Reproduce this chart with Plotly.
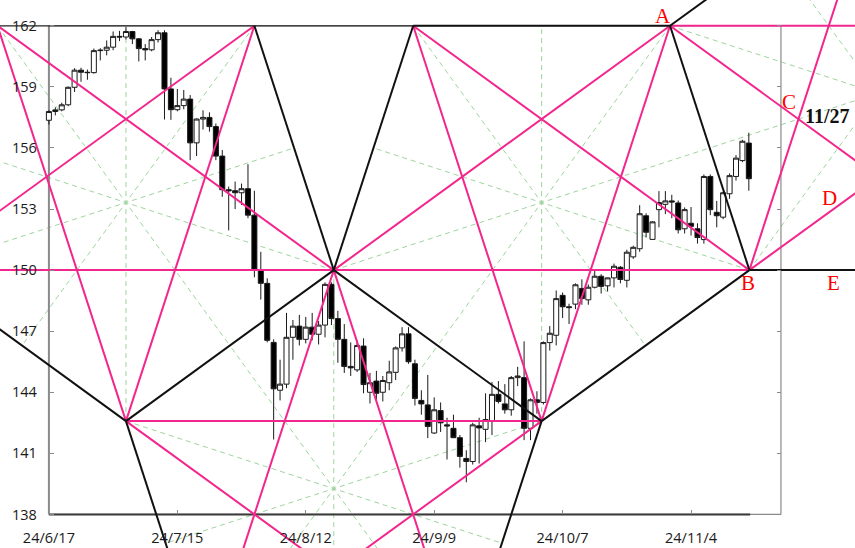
import math
import plotly.graph_objects as go

# ---------------- data ----------------
tick_idx = [0, 20, 40, 60, 80, 100]
tick_labels = ["24/6/17", "24/7/15", "24/8/12", "24/9/9", "24/10/7", "24/11/4"]
price_ticks = [138, 141, 144, 147, 150, 153, 156, 159, 162]

opens = [157.36, 157.79, 157.87, 158.12, 158.98, 159.82, 159.72, 159.70, 160.78, 160.80,
         160.95, 161.48, 161.45, 161.72, 161.36, 160.88, 160.82, 161.32, 161.66, 158.90,
         157.88, 158.08, 158.40, 156.25, 157.42, 157.50, 157.05, 155.60, 153.95, 153.90,
         153.80, 154.00, 152.70, 150.00, 149.35, 146.45, 144.10, 144.40, 146.70, 147.25,
         146.60, 147.20, 146.85, 147.30, 149.30, 147.62, 146.60, 145.27, 145.10, 146.27,
         144.00, 144.55, 144.00, 144.47, 144.98, 146.18, 146.87, 145.40, 143.60, 143.38,
         142.00, 143.10, 142.40, 142.23, 141.77, 140.75, 140.60, 142.35, 142.18, 142.57,
         143.90, 143.43, 143.14, 144.72, 144.72, 142.23, 143.63, 143.50, 146.44, 146.80,
         148.76, 148.20, 148.33, 149.10, 148.54, 149.16, 149.70, 149.23, 149.62, 150.14,
         149.50, 150.65, 151.05, 152.67, 151.51, 152.97, 153.23, 153.40, 153.30, 152.03,
         152.30, 152.03, 151.50, 154.60, 152.84, 152.60, 153.75, 154.60, 155.38, 156.24]
highs = [157.85, 158.00, 158.22, 159.02, 159.92, 159.94, 159.85, 160.88, 160.90, 161.28,
         161.72, 161.75, 161.95, 161.75, 161.40, 161.10, 161.45, 161.78, 161.78, 159.45,
         158.90, 158.85, 158.60, 157.45, 157.85, 157.75, 157.20, 155.90, 154.10, 154.35,
         154.25, 155.20, 153.90, 150.90, 149.60, 146.60, 145.60, 147.90, 147.55, 147.80,
         147.70, 147.90, 147.50, 149.40, 149.40, 148.00, 147.35, 146.45, 146.55, 146.65,
         144.95, 145.05, 144.80, 145.55, 146.25, 147.20, 147.20, 145.60, 144.10, 144.85,
         143.75, 143.50, 142.75, 142.90, 141.90, 141.15, 142.50, 142.75, 143.95, 144.50,
         144.55, 144.40, 144.80, 145.25, 146.50, 143.70, 144.05, 146.50, 147.25, 149.00,
         148.90, 148.35, 149.35, 149.55, 149.30, 149.98, 149.80, 149.60, 150.32, 150.20,
         151.00, 151.20, 153.19, 152.79, 152.40, 153.88, 153.88, 153.70, 153.42, 153.08,
         153.10, 152.30, 154.70, 154.70, 153.40, 153.85, 154.75, 155.65, 156.40, 156.75]
lows = [157.15, 157.60, 157.80, 158.05, 158.75, 159.25, 159.35, 159.65, 160.30, 160.55,
        160.80, 161.25, 161.33, 161.10, 160.25, 160.30, 160.75, 161.18, 157.40, 157.38,
        157.80, 157.90, 155.40, 155.60, 156.90, 156.80, 155.40, 153.60, 151.95, 153.00,
        153.20, 152.55, 149.65, 148.55, 146.45, 141.68, 143.60, 144.20, 145.60, 146.30,
        146.40, 146.55, 146.35, 146.70, 147.30, 145.45, 144.95, 144.80, 145.00, 143.95,
        143.45, 143.60, 143.55, 144.10, 144.60, 146.00, 145.40, 143.35, 142.90, 141.75,
        141.95, 142.05, 140.70, 141.75, 140.30, 139.58, 140.45, 140.50, 141.55, 141.90,
        143.45, 142.95, 142.85, 144.30, 141.65, 141.65, 142.95, 143.40, 146.05, 146.30,
        147.65, 147.35, 148.08, 148.30, 148.30, 149.10, 148.85, 148.95, 149.15, 149.35,
        149.15, 150.55, 150.90, 151.60, 151.50, 152.10, 152.75, 152.55, 151.80, 151.80,
        151.70, 151.30, 151.30, 152.70, 152.10, 152.50, 153.50, 154.40, 155.30, 153.90]
closes = [157.79, 157.87, 158.12, 158.98, 159.82, 159.72, 159.70, 160.78, 160.80, 160.95,
          161.48, 161.45, 161.72, 161.36, 160.88, 160.82, 161.32, 161.66, 158.90, 157.88,
          158.08, 158.40, 156.25, 157.42, 157.50, 157.05, 155.60, 153.95, 153.90, 153.80,
          154.00, 152.70, 150.00, 149.35, 146.55, 144.17, 144.40, 146.70, 147.25, 146.60,
          147.20, 146.85, 147.30, 149.30, 147.62, 146.60, 145.27, 145.20, 146.30, 144.38,
          144.47, 143.95, 144.58, 145.00, 146.18, 146.87, 145.50, 143.70, 143.43, 142.32,
          143.14, 142.50, 142.35, 141.77, 140.85, 140.60, 142.40, 142.25, 142.66, 143.90,
          143.55, 143.14, 144.72, 144.80, 142.23, 143.63, 143.50, 146.44, 146.90, 148.60,
          148.20, 148.16, 149.28, 148.60, 149.16, 149.70, 149.20, 149.62, 150.19, 149.54,
          150.88, 151.12, 152.77, 151.86, 152.37, 153.32, 153.40, 153.35, 151.98, 152.97,
          152.15, 151.60, 154.60, 152.97, 152.67, 153.80, 154.64, 155.50, 156.33, 154.49]

# geometry anchors of the drawing (prices / trading-day offsets)
top_price = 162
mid_price = 150
high_idx = 12          # day of the July high
half_base = 20         # trading days
frame_end = 114        # last category of the axis

# ---------------- scales (screen) ----------------
W, H = 855, 548
PX_DAY = 6.4215
PX_YEN = 20.36
X0_PX = 48.9
YTOP_PX = 25.8
x_range = [(0 - X0_PX) / PX_DAY, (W - X0_PX) / PX_DAY]
y_range = [top_price - (H - YTOP_PX) / PX_YEN, top_price + YTOP_PX / PX_YEN]


def slope(deg):
    return math.tan(math.radians(deg)) * PX_DAY / PX_YEN


s36, s72 = slope(36), slope(72)
tri_h = half_base * s72
step = (top_price - mid_price) / s72

V1 = (high_idx, top_price - tri_h)
T0 = (high_idx - half_base, top_price)
T1 = (high_idx + half_base, top_price)
C1 = (T1[0] + step, mid_price)
T2 = (C1[0] + step, top_price)
V2 = (T2[0] + half_base, top_price - tri_h)
A = (T2[0] + 2 * half_base, top_price)
B = (A[0] + step, mid_price)


def ray(P, d, s, L=200):
    return [P, (P[0] + d * L, P[1] + d * L * s)]


pink_segs = [
    [(x_range[0] - 50, mid_price), B],
    [A, (x_range[1] + 50, top_price)],
    [V1, V2],
    [T0, V1], [T1, V1],
    [T0, C1],
    ray(T1, -1, s36),
    ray(V1, 1, -s36),
    ray(C1, -1, s72), ray(C1, 1, -s72),
    ray(V2, -1, s36),
    [T2, V2], [A, V2],
    [C1, A], [T2, B],
    ray(A, 1, -s36),
    ray(B, 1, s72),
    ray(B, 1, s36),
]
black_segs = [
    ray(V1, -1, -s36),
    [V1, C1], [C1, V2], [V2, B],
    ray(V1, 1, -s72),
    [T1, C1], [T2, C1],
    ray(V2, -1, s72),
    [A, B],
    ray(A, 1, s36),
    [B, (x_range[1] + 50, mid_price)],
    [T2, A],
]
thin_black_segs = [
    [(x_range[0] - 50, top_price), T2],
]


def seg_xy(segs):
    xs, ys = [], []
    for p, q in segs:
        xs += [p[0], q[0], None]
        ys += [p[1], q[1], None]
    return xs, ys


# green pentagram stars (regular pentagons in screen space)
R = half_base * PX_DAY / math.cos(math.radians(54))


def star(center, theta0):
    cu, cv = center[0] * PX_DAY, center[1] * PX_YEN
    out = []
    for k in range(5):
        th = math.radians(theta0 + 72 * k)
        vx, vy = cu + R * math.cos(th), cv + R * math.sin(th)
        r2 = R * math.cos(math.radians(36))
        mx, my = cu - r2 * math.cos(th), cv - r2 * math.sin(th)
        out.append(((vx / PX_DAY, vy / PX_YEN), (mx / PX_DAY, my / PX_YEN)))
    return out


S1 = (V1[0], V1[1] + R / PX_YEN)
S2 = (V2[0], V2[1] + R / PX_YEN)
S3 = (C1[0], C1[1] - R / PX_YEN)
S6 = (A[0] + R * math.cos(math.radians(18)) / PX_DAY,
      A[1] - R * math.sin(math.radians(18)) / PX_YEN)
green = star(S1, -90) + star(S2, -90) + star(S3, 90) + star(S6, 162)

PINK = "#F2268C"
GREEN = "#9ed49e"

shapes = []
for p, q in green:
    shapes.append(dict(type="line", xref="x", yref="y", x0=p[0], y0=p[1], x1=q[0], y1=q[1],
                       layer="below", line=dict(color=GREEN, width=1, dash="5px,4px")))
# frame
shapes += [
    dict(type="line", xref="x", yref="y", x0=0, x1=frame_end, y0=price_ticks[-1], y1=price_ticks[-1],
         layer="below", line=dict(color="#8a8a8a", width=1)),
    dict(type="line", xref="x", yref="y", x0=frame_end, x1=frame_end, y0=price_ticks[0], y1=price_ticks[-1],
         layer="below", line=dict(color="#8a8a8a", width=1.2)),
    dict(type="line", xref="x", yref="y", x0=0, x1=frame_end, y0=price_ticks[0], y1=price_ticks[0],
         layer="below", line=dict(color="#8a8a8a", width=1.2)),
    dict(type="line", xref="x", yref="y", x0=0, x1=len(opens) - 0.8, y0=price_ticks[0], y1=price_ticks[0],
         layer="below", line=dict(color="#3a3a3a", width=2)),
    dict(type="line", xref="x", yref="y", x0=0, x1=0, y0=price_ticks[0], y1=price_ticks[-1],
         layer="below", line=dict(color="#8a8a8a", width=2)),
]

fig = go.Figure()
fig.add_trace(go.Candlestick(
    x=list(range(len(opens))), open=opens, high=highs, low=lows, close=closes,
    increasing=dict(fillcolor="white", line=dict(color="#1a1a1a", width=1)),
    decreasing=dict(fillcolor="black", line=dict(color="#1a1a1a", width=1)),
    whiskerwidth=0, showlegend=False, hoverinfo="skip"))

px_, py_ = seg_xy(pink_segs)
fig.add_trace(go.Scatter(x=px_, y=py_, mode="lines", line=dict(color=PINK, width=2),
                         showlegend=False, hoverinfo="skip"))
tx_, ty_ = seg_xy(thin_black_segs)
fig.add_trace(go.Scatter(x=tx_, y=ty_, mode="lines", line=dict(color="#222222", width=1.2),
                         showlegend=False, hoverinfo="skip"))
bx_, by_ = seg_xy(black_segs)
fig.add_trace(go.Scatter(x=bx_, y=by_, mode="lines", line=dict(color="#111111", width=2),
                         showlegend=False, hoverinfo="skip"))
# dummy for right axis
fig.add_trace(go.Scatter(x=[None], y=[None], yaxis="y2", showlegend=False, hoverinfo="skip"))

# crossing point C (A's 36° line with B's 72° line)
xc = (A[1] - B[1] + s36 * A[0] + s72 * B[0]) / (s36 + s72)
yc = A[1] - s36 * (xc - A[0])

lab_font = dict(family="Liberation Serif, Times New Roman, serif", size=21, color="#ff0000")
annotations = [
    dict(x=A[0], y=A[1], text="A", xshift=-7, yshift=10),
    dict(x=B[0], y=B[1], text="B", xshift=-1, yshift=-13),
    dict(x=xc, y=yc, text="C", xshift=-9, yshift=17),
    dict(x=B[0], y=B[1], text="D", xshift=80, yshift=72),
    dict(x=B[0], y=B[1], text="E", xshift=84, yshift=-13),
]
for a in annotations:
    a.update(xref="x", yref="y", showarrow=False, font=lab_font, xanchor="center", yanchor="middle")
annotations.append(dict(x=xc, y=yc, xref="x", yref="y", text="<b>11/27</b>", showarrow=False,
                        xshift=29, yshift=3, xanchor="center", yanchor="middle",
                        font=dict(family="Liberation Serif, Times New Roman, serif", size=20, color="#111")))

tick_font = dict(family="Open Sans, sans-serif", size=14.5, color="#1a1a1a")
fig.update_layout(
    width=W, height=H, margin=dict(l=0, r=0, t=0, b=0, pad=0, autoexpand=False),
    paper_bgcolor="white", plot_bgcolor="white",
    showlegend=False, hovermode=False, boxgap=0.22, boxgroupgap=0,
    shapes=shapes, annotations=annotations,
    xaxis=dict(range=x_range, anchor="free", position=(H - 514.3) / H, showgrid=False, zeroline=False,
               showline=False, tickvals=tick_idx, ticktext=tick_labels, ticks="inside", ticklen=4,
               tickcolor="#8a8a8a", tickfont=tick_font, ticklabelstandoff=13,
               rangeslider=dict(visible=False), fixedrange=True),
    yaxis=dict(range=y_range, anchor="free", position=X0_PX / W, showgrid=False, zeroline=False,
               showline=False, tickvals=price_ticks, ticks="inside", ticklen=4, tickcolor="#8a8a8a",
               tickfont=tick_font, ticklabelstandoff=12, fixedrange=True),
    yaxis2=dict(range=y_range, overlaying="y", side="right", anchor="free",
                position=(X0_PX + frame_end * PX_DAY) / W, showgrid=False, zeroline=False,
                showline=False, tickvals=price_ticks, ticks="inside", ticklen=4, tickcolor="#8a8a8a",
                showticklabels=False, fixedrange=True),
)
fig.write_html("out.html", config={"displayModeBar": False},
               post_script="document.body.style.margin='0';document.body.style.overflow='hidden';")
